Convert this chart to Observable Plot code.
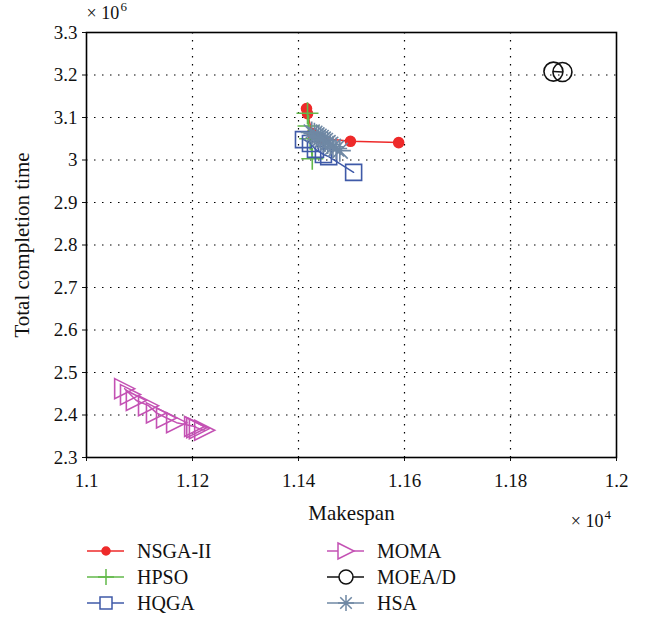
<!DOCTYPE html>
<html><head><meta charset="utf-8">
<script src="https://cdn.jsdelivr.net/npm/d3@7"></script>
<script src="https://cdn.jsdelivr.net/npm/@observablehq/plot@0.6"></script>
<style>
body{margin:0;background:#fff;font-family:"Liberation Serif",serif;}
#wrap{position:relative;width:650px;height:622px;background:#fff;}
#legend{position:relative;width:650px;height:92px;}
.item{position:absolute;display:flex;align-items:center;font-size:20px;color:#111;height:22px;}
.item svg{display:block;margin-right:13px;}
</style></head><body><div id="wrap"><div id="chart"></div><div id="legend"></div></div>
<script>
// ---- data ----
const xTicks = [1.1, 1.12, 1.14, 1.16, 1.18, 1.2];
const xTickLabels = ["1.1", "1.12", "1.14", "1.16", "1.18", "1.2"];
const yTicks = [2.3, 2.4, 2.5, 2.6, 2.7, 2.8, 2.9, 3.0, 3.1, 3.2, 3.3];
const yTickLabels = ["2.3", "2.4", "2.5", "2.6", "2.7", "2.8", "2.9", "3", "3.1", "3.2", "3.3"];
const seriesNames = ["NSGA-II", "HPSO", "HQGA", "MOMA", "MOEA/D", "HSA"];

const nsgaX = [1.14151, 1.1417, 1.1426, 1.1442, 1.1498, 1.1589];
const nsgaY = [3.121, 3.109, 3.062, 3.051, 3.044, 3.041];

const hpsoX = [1.1417, 1.1419, 1.1422, 1.1426];
const hpsoY = [3.110, 3.080, 3.050, 3.003];

const hqgaX = [1.14094, 1.14226, 1.1432, 1.1447, 1.1457, 1.1504];
const hqgaY = [3.048, 3.039, 3.025, 3.013, 3.008, 2.971];

const momaX = [1.1072, 1.1083, 1.1094, 1.1117, 1.1132, 1.1151, 1.1170, 1.1204, 1.1208, 1.1213, 1.1223];
const momaY = [2.462, 2.448, 2.434, 2.422, 2.405, 2.393, 2.382, 2.373, 2.370, 2.368, 2.364];

const moeadX = [1.1881, 1.1898];
const moeadY = [3.208, 3.207];

const hsaX = [1.1425, 1.1430, 1.1434, 1.1438, 1.1442, 1.1446, 1.1450, 1.1455, 1.1460, 1.1465, 1.1471, 1.1478];
const hsaY = [3.065, 3.062, 3.058, 3.055, 3.052, 3.048, 3.045, 3.040, 3.036, 3.031, 3.027, 3.022];

// ---- styling ----
const colors = {"NSGA-II": "#ee2a2a", "HPSO": "#62b94a", "HQGA": "#3f5aa8", "MOMA": "#c452b4", "MOEA/D": "#111111", "HSA": "#6f88a4"};
const mk = fn => ({draw(ctx, size) { const s = Math.sqrt(size / Math.PI); fn(ctx, s); }});
const symPlus = mk((c, s) => { c.moveTo(-s, 0); c.lineTo(s, 0); c.moveTo(0, -s); c.lineTo(0, s); });
const symSquare = mk((c, s) => { c.rect(-s, -s, 2 * s, 2 * s); });
const symTri = mk((c, s) => { c.moveTo(-s, -s); c.lineTo(s, 0); c.lineTo(-s, s); c.closePath(); });
const symCircle = mk((c, s) => { c.moveTo(s, 0); c.arc(0, 0, s, 0, 2 * Math.PI); });
const symDot = mk((c, s) => { c.moveTo(s, 0); c.arc(0, 0, s, 0, 2 * Math.PI); });
const symAst = mk((c, s) => { const d = s * 0.72; c.moveTo(-s, 0); c.lineTo(s, 0); c.moveTo(0, -s); c.lineTo(0, s);
  c.moveTo(-d, -d); c.lineTo(d, d); c.moveTo(-d, d); c.lineTo(d, -d); });

const series = [
  {name: "NSGA-II", xs: nsgaX, ys: nsgaY, symbol: symDot, r: 5, fill: true, lr: 4},
  {name: "HPSO", xs: hpsoX, ys: hpsoY, symbol: symPlus, r: 11, fill: false, lr: 8},
  {name: "HQGA", xs: hqgaX, ys: hqgaY, symbol: symSquare, r: 8, fill: false, lr: 6},
  {name: "MOMA", xs: momaX, ys: momaY, symbol: symTri, r: 10, fill: false, lr: 8},
  {name: "MOEA/D", xs: moeadX, ys: moeadY, symbol: symCircle, r: 9.5, fill: false, lr: 7},
  {name: "HSA", xs: hsaX, ys: hsaY, symbol: symAst, r: 11, fill: false, lr: 8}
];

const marks = [
  Plot.gridX(xTicks.slice(1, -1), {stroke: "#000", strokeOpacity: 1, strokeDasharray: "1.5,6.5", strokeWidth: 1.2}),
  Plot.gridY(yTicks.slice(1, -1), {stroke: "#000", strokeOpacity: 1, strokeDasharray: "1.5,6.5", strokeWidth: 1.2}),
  Plot.axisX(xTicks, {tickSize: 4, tickPadding: 12, label: null, fontSize: 19, tickFormat: d => xTickLabels[xTicks.indexOf(d)]}),
  Plot.axisY(yTicks, {tickSize: 4, tickPadding: 5, label: null, fontSize: 19, tickFormat: d => yTickLabels[yTicks.indexOf(d)]})
];
for (const s of series) {
  const rows = s.xs.map((x, i) => ({x, y: s.ys[i]}));
  marks.push(Plot.line(rows, {x: "x", y: "y", stroke: colors[s.name], strokeWidth: 1.5, curve: "linear"}));
  marks.push(Plot.dot(rows, {x: "x", y: "y", symbol: s.symbol, r: s.r,
    stroke: colors[s.name], strokeWidth: 1.6, fill: s.fill ? colors[s.name] : "none"}));
}
marks.push(Plot.frame({stroke: "#000", strokeWidth: 1.6}));
marks.push(Plot.text(["Total completion time"], {frameAnchor: "left", rotate: -90, dx: -64, fontSize: 21, textAnchor: "middle", lineAnchor: "middle", fill: "#111"}));
marks.push(Plot.text(["Makespan"], {frameAnchor: "bottom", dy: 56, fontSize: 21, lineAnchor: "middle", fill: "#111"}));
marks.push(Plot.text(["× 10"], {frameAnchor: "top-left", dy: -19, dx: 0, fontSize: 18, textAnchor: "start", lineAnchor: "middle", fill: "#111"}));
marks.push(Plot.text(["6"], {frameAnchor: "top-left", dy: -26, dx: 34, fontSize: 13, textAnchor: "start", lineAnchor: "middle", fill: "#111"}));
marks.push(Plot.text(["× 10"], {frameAnchor: "bottom-right", dy: 64, dx: -13, fontSize: 18, textAnchor: "end", lineAnchor: "middle", fill: "#111"}));
marks.push(Plot.text(["4"], {frameAnchor: "bottom-right", dy: 57, dx: -12, fontSize: 13, textAnchor: "start", lineAnchor: "middle", fill: "#111"}));

const chart = Plot.plot({
  width: 650, height: 530,
  marginLeft: 86, marginRight: 34, marginTop: 32, marginBottom: 73,
  style: {fontFamily: "Liberation Serif, serif", fontSize: "19px", color: "#111", background: "#fff", overflow: "visible"},
  x: {domain: [1.1, 1.2]},
  y: {domain: [2.3, 3.3]},
  marks
});
document.getElementById("chart").appendChild(chart);

// ---- legend ----
const leg = document.getElementById("legend");
const cols = [87, 327];
const rowsY = [10, 36, 62];
series.forEach((s, i) => {
  const div = document.createElement("div");
  div.className = "item";
  div.style.left = cols[Math.floor(i / 3)] + "px";
  div.style.top = rowsY[i % 3] + "px";
  const svg = d3.create("svg").attr("width", 37).attr("height", 22);
  svg.append("line").attr("x1", 0).attr("x2", 37).attr("y1", 11).attr("y2", 11)
    .attr("stroke", colors[s.name]).attr("stroke-width", 1.5);
  const p = d3.path();
  s.symbol.draw(p, Math.PI * s.lr * s.lr);
  svg.append("path").attr("d", p.toString()).attr("transform", "translate(19,11)")
    .attr("stroke", colors[s.name]).attr("stroke-width", 1.5)
    .attr("fill", s.fill ? colors[s.name] : "#fff");
  div.appendChild(svg.node());
  const t = document.createElement("span");
  t.textContent = s.name;
  div.appendChild(t);
  leg.appendChild(div);
});
</script>
</body></html>
